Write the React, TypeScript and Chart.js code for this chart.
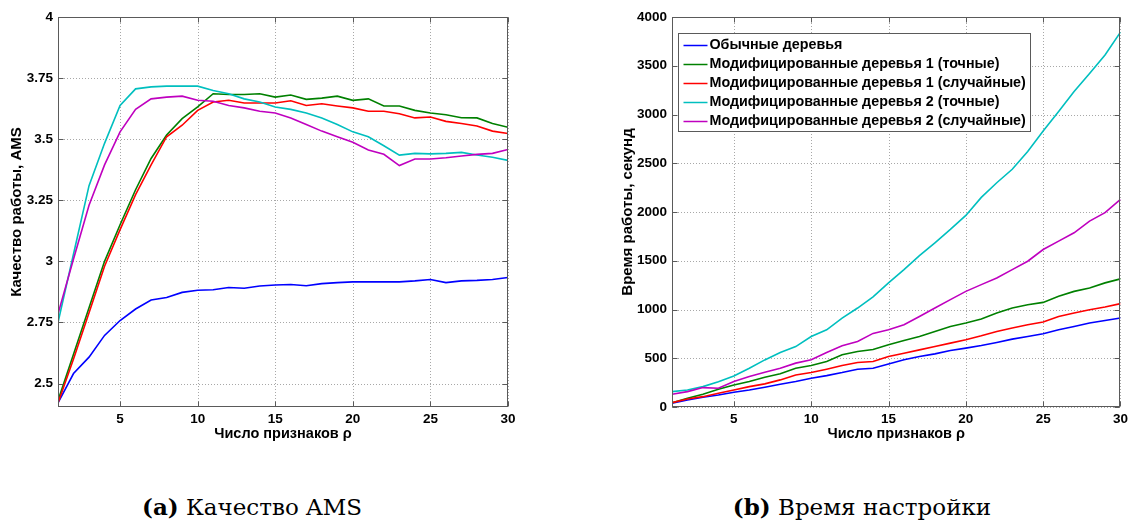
import React, { useEffect, useRef } from "react";
import { Chart, registerables } from "chart.js";

Chart.register(...registerables);

// ---------- data ----------
const features = [1, 2, 3, 4, 5, 6, 7, 8, 9, 10, 11, 12, 13, 14, 15, 16, 17, 18, 19, 20, 21, 22, 23, 24, 25, 26, 27, 28, 29, 30];

const seriesLabels = [
  "Обычные деревья",
  "Модифицированные деревья 1 (точные)",
  "Модифицированные деревья 1 (случайные)",
  "Модифицированные деревья 2 (точные)",
  "Модифицированные деревья 2 (случайные)",
];
const seriesColors = ["#0000ff", "#008000", "#ff0000", "#00bfbf", "#bf00bf"];

const xTicks = [5, 10, 15, 20, 25, 30];
const amsTicks = [2.5, 2.75, 3, 3.25, 3.5, 3.75, 4];
const timeTicks = [0, 500, 1000, 1500, 2000, 2500, 3000, 3500, 4000];

// (a) AMS quality
const amsPlain = [2.421, 2.541, 2.608, 2.697, 2.758, 2.805, 2.842, 2.852, 2.873, 2.882, 2.884, 2.893, 2.89, 2.899, 2.903, 2.905, 2.9, 2.909, 2.913, 2.916, 2.916, 2.916, 2.916, 2.92, 2.926, 2.913, 2.92, 2.922, 2.926, 2.934];
const amsMod1Exact = [2.43, 2.62, 2.81, 3.0, 3.15, 3.293, 3.421, 3.517, 3.584, 3.632, 3.686, 3.683, 3.683, 3.686, 3.672, 3.681, 3.663, 3.668, 3.676, 3.659, 3.665, 3.636, 3.636, 3.618, 3.607, 3.6, 3.588, 3.587, 3.564, 3.549];
const amsMod1Rand = [2.42, 2.6, 2.79, 2.98, 3.13, 3.273, 3.395, 3.51, 3.557, 3.618, 3.652, 3.659, 3.648, 3.648, 3.648, 3.657, 3.638, 3.645, 3.636, 3.628, 3.614, 3.614, 3.604, 3.587, 3.591, 3.573, 3.564, 3.554, 3.533, 3.523];
const amsMod2Exact = [2.75, 3.03, 3.31, 3.483, 3.638, 3.706, 3.714, 3.717, 3.717, 3.717, 3.699, 3.686, 3.665, 3.652, 3.632, 3.622, 3.607, 3.587, 3.56, 3.53, 3.51, 3.473, 3.435, 3.442, 3.44, 3.442, 3.446, 3.435, 3.426, 3.413];
const amsMod2Rand = [2.785, 3.01, 3.23, 3.395, 3.53, 3.622, 3.665, 3.672, 3.676, 3.659, 3.655, 3.638, 3.628, 3.614, 3.607, 3.587, 3.56, 3.533, 3.51, 3.487, 3.456, 3.438, 3.392, 3.419, 3.419, 3.424, 3.431, 3.438, 3.442, 3.458];

// (b) training time, seconds
const timePlain = [38, 72, 100, 123, 151, 175, 203, 233, 261, 295, 322, 353, 388, 398, 442, 484, 518, 545, 579, 604, 631, 662, 696, 723, 751, 792, 826, 861, 888, 912];
const timeMod1Exact = [44, 89, 130, 182, 226, 261, 305, 340, 398, 425, 466, 535, 569, 590, 638, 682, 723, 775, 826, 861, 902, 964, 1015, 1049, 1073, 1135, 1186, 1221, 1273, 1314];
const timeMod1Rand = [45, 82, 106, 141, 175, 209, 237, 278, 329, 353, 388, 425, 456, 466, 518, 552, 586, 620, 655, 689, 730, 775, 810, 844, 871, 929, 964, 998, 1026, 1060];
const timeMod2Exact = [158, 175, 209, 260, 319, 398, 483, 559, 620, 723, 792, 912, 1015, 1130, 1273, 1409, 1553, 1684, 1821, 1965, 2150, 2300, 2438, 2620, 2830, 3030, 3235, 3420, 3610, 3845];
const timeMod2Rand = [130, 158, 199, 192, 261, 312, 357, 398, 450, 484, 559, 628, 672, 755, 792, 844, 929, 1015, 1101, 1186, 1255, 1324, 1409, 1495, 1615, 1701, 1787, 1906, 1993, 2130];

const FONT = "'Liberation Sans', Arial, sans-serif";

type PanelCfg = {
  series: number[][];
  yMin: number;
  yMax: number;
  yTicks: number[];
  yTitle: string;
  xTitle: string;
  axisWidth: number; // width left of plot area
  yTitleX: number;
  legend: boolean;
};

function makeChart(canvas: HTMLCanvasElement, cfg: PanelCfg) {
  const W = canvas.width;
  const H = canvas.height;
  const plotTop = 17;
  const plotBottom = 407;
  const plotWidth = 450;

  const framePlugin = {
    id: "matlabFrame",
    beforeDatasetsDraw(chart: any) {
      const { ctx, chartArea: a, scales } = chart;
      const x = scales.x;
      const y = scales.y;
      ctx.save();
      ctx.strokeStyle = "#a8a8a8";
      ctx.lineWidth = 1;
      ctx.setLineDash([1, 2]);
      for (const v of xTicks) {
        const px = Math.round(x.getPixelForValue(v)) + 0.5;
        ctx.beginPath();
        ctx.moveTo(px, a.top);
        ctx.lineTo(px, a.bottom);
        ctx.stroke();
      }
      for (const v of cfg.yTicks) {
        const py = Math.round(y.getPixelForValue(v)) + 0.5;
        ctx.beginPath();
        ctx.moveTo(a.left, py);
        ctx.lineTo(a.right, py);
        ctx.stroke();
      }
      ctx.restore();
    },
    afterDatasetsDraw(chart: any) {
      const { ctx, chartArea: a, scales } = chart;
      const x = scales.x;
      const y = scales.y;
      ctx.save();
      ctx.setLineDash([]);
      ctx.strokeStyle = "#5a5a5a";
      ctx.lineWidth = 1;
      const L = Math.round(a.left) + 0.5;
      const R = Math.round(a.right) - 0.5;
      const T = Math.round(a.top) + 0.5;
      const B = Math.round(a.bottom) - 0.5;
      ctx.strokeRect(L, T, R - L, B - T);
      const tl = 5;
      for (const v of xTicks) {
        const px = Math.round(x.getPixelForValue(v)) + 0.5;
        ctx.beginPath();
        ctx.moveTo(px, B);
        ctx.lineTo(px, B - tl);
        ctx.moveTo(px, T);
        ctx.lineTo(px, T + tl);
        ctx.stroke();
      }
      for (const v of cfg.yTicks) {
        const py = Math.round(y.getPixelForValue(v)) + 0.5;
        ctx.beginPath();
        ctx.moveTo(L, py);
        ctx.lineTo(L + tl, py);
        ctx.moveTo(R, py);
        ctx.lineTo(R - tl, py);
        ctx.stroke();
      }

      // axis titles
      ctx.fillStyle = "#000";
      ctx.textAlign = "center";
      ctx.textBaseline = "middle";
      ctx.font = `bold 14.5px ${FONT}`;
      ctx.fillText(cfg.xTitle, (a.left + a.right) / 2, 434);
      ctx.save();
      ctx.font = `bold 15px ${FONT}`;
      ctx.translate(cfg.yTitleX, (a.top + a.bottom) / 2);
      ctx.rotate(-Math.PI / 2);
      ctx.fillText(cfg.yTitle, 0, 0);
      ctx.restore();

      // legend
      if (cfg.legend) {
        ctx.font = `bold 14.3px ${FONT}`;
        const labels = chart.data.datasets.map((d: any) => d.label as string);
        const maxW = Math.max(...labels.map((s: string) => ctx.measureText(s).width));
        const bx = Math.round(a.left) + 6.5;
        const by = Math.round(a.top) + 16.5;
        const rowH = 19;
        const bw = Math.round(31 + maxW + 5);
        const bh = rowH * labels.length + 3;
        ctx.fillStyle = "#fff";
        ctx.fillRect(bx, by, bw, bh);
        ctx.strokeStyle = "#5a5a5a";
        ctx.strokeRect(bx, by, bw, bh);
        chart.data.datasets.forEach((d: any, i: number) => {
          const cy = by + 11 + i * rowH;
          ctx.strokeStyle = d.borderColor;
          ctx.lineWidth = 1.5;
          ctx.beginPath();
          ctx.moveTo(bx + 5, Math.round(cy) + 0.5);
          ctx.lineTo(bx + 29, Math.round(cy) + 0.5);
          ctx.stroke();
          ctx.fillStyle = "#000";
          ctx.textAlign = "left";
          ctx.textBaseline = "middle";
          ctx.fillText(d.label, bx + 31, cy + 1);
        });
      }
      ctx.restore();
    },
  };

  return new Chart(canvas, {
    type: "line",
    data: {
      datasets: cfg.series.map((arr, i) => ({
        label: seriesLabels[i],
        data: features.map((f, j) => ({ x: f, y: arr[j] })),
        borderColor: seriesColors[i],
        backgroundColor: seriesColors[i],
        borderWidth: 1.6,
        pointRadius: 0,
        tension: 0,
        fill: false,
        order: cfg.series.length - i,
      })),
    },
    options: {
      responsive: false,
      animation: false,
      devicePixelRatio: 1,
      layout: { padding: { top: plotTop, right: W - cfg.axisWidth - plotWidth, left: 0, bottom: 0 } },
      plugins: { legend: { display: false }, tooltip: { enabled: false } },
      scales: {
        x: {
          type: "linear",
          min: 1,
          max: 30,
          afterBuildTicks: (s: any) => {
            s.ticks = xTicks.map((v) => ({ value: v }));
          },
          afterFit: (s: any) => {
            s.height = H - plotBottom;
          },
          grid: { display: false, drawTicks: false },
          border: { display: false },
          ticks: {
            padding: 4,
            maxRotation: 0,
            autoSkip: false,
            color: "#000",
            font: { family: FONT, weight: "bold", size: 13.5 },
          },
        },
        y: {
          type: "linear",
          min: cfg.yMin,
          max: cfg.yMax,
          afterBuildTicks: (s: any) => {
            s.ticks = cfg.yTicks.map((v) => ({ value: v }));
          },
          afterFit: (s: any) => {
            s.width = cfg.axisWidth;
          },
          grid: { display: false, drawTicks: false },
          border: { display: false },
          ticks: {
            padding: 5,
            autoSkip: false,
            color: "#000",
            font: { family: FONT, weight: "bold", size: 13.5 },
            callback: (v: any) => String(v),
          },
        },
      },
    },
    plugins: [framePlugin],
  });
}

function Panel(props: { cfg: PanelCfg; left: number }) {
  const ref = useRef<HTMLCanvasElement | null>(null);
  useEffect(() => {
    if (!ref.current) return;
    const chart = makeChart(ref.current, props.cfg);
    return () => chart.destroy();
  }, []);
  return (
    <canvas
      ref={ref}
      width={566}
      height={455}
      style={{ position: "absolute", left: props.left, top: 0, width: 566, height: 455 }}
    />
  );
}

const amsCfg: PanelCfg = {
  series: [amsPlain, amsMod1Exact, amsMod1Rand, amsMod2Exact, amsMod2Rand],
  yMin: 2.404,
  yMax: 4,
  yTicks: amsTicks,
  yTitle: "Качество работы, AMS",
  xTitle: "Число признаков ρ",
  axisWidth: 58,
  yTitleX: 17,
  legend: false,
};

const timeCfg: PanelCfg = {
  series: [timePlain, timeMod1Exact, timeMod1Rand, timeMod2Exact, timeMod2Rand],
  yMin: 0,
  yMax: 4000,
  yTicks: timeTicks,
  yTitle: "Время работы, секунд",
  xTitle: "Число признаков ρ",
  axisWidth: 106,
  yTitleX: 61.5,
  legend: true,
};

const captionStyle = (cx: number): React.CSSProperties => ({
  position: "absolute",
  left: cx - 200,
  width: 400,
  top: 492,
  lineHeight: "30px",
  textAlign: "center",
  fontFamily: "'DejaVu Serif', serif",
  fontSize: 23,
  color: "#000",
  whiteSpace: "nowrap",
});

export default function App() {
  return (
    <div style={{ position: "fixed", left: 0, top: 0, width: 1132, height: 521, background: "#fff", overflow: "hidden" }}>
      <Panel cfg={amsCfg} left={0} />
      <Panel cfg={timeCfg} left={566} />
      <div style={captionStyle(252)}>
        <b>(a)</b> Качество AMS
      </div>
      <div style={captionStyle(862)}>
        <b>(b)</b> Время настройки
      </div>
    </div>
  );
}
